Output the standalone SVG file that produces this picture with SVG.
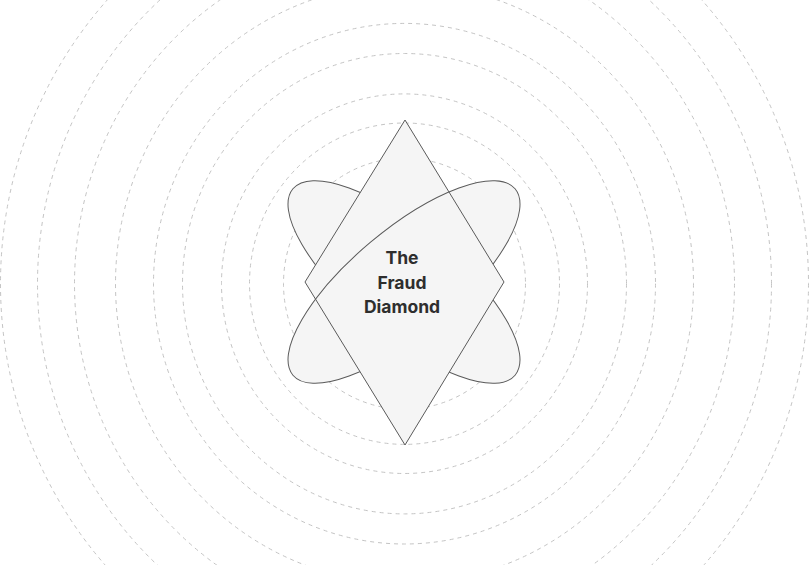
<svg xmlns="http://www.w3.org/2000/svg" width="811" height="565" viewBox="0 0 811 565">
<style>
.ring{fill:none;stroke:#c4c4c4;stroke-width:1;stroke-dasharray:4 4}
.shape{fill:#f5f5f5;stroke:#5a5a5a;stroke-width:1}
.edge{fill:none;stroke:#5a5a5a;stroke-width:1}
.lbl{font-family:Inter,"Liberation Sans",sans-serif;font-weight:700;font-size:17.5px;fill:#2e2e2e;text-anchor:middle}
</style>
<defs>
<clipPath id="cd"><polygon points="405,120 504,282 405,445 305,282"/></clipPath>
<clipPath id="ch"><polygon points="21,603 787,-39 900,-700 -700,-700 -700,603"/></clipPath>
</defs>
<rect width="811" height="565" fill="#fff"/>
<g id="rings">
<ellipse class="ring" cx="404.5" cy="283.7" rx="121" ry="125.5"/>
<ellipse class="ring" cx="404.5" cy="283.7" rx="155" ry="160.7"/>
<ellipse class="ring" cx="404.5" cy="283.7" rx="183" ry="189.8"/>
<ellipse class="ring" cx="404.5" cy="283.7" rx="222" ry="230.2"/>
<ellipse class="ring" cx="404.5" cy="283.7" rx="251" ry="260.3"/>
<ellipse class="ring" cx="404.5" cy="283.7" rx="289" ry="299.7"/>
<ellipse class="ring" cx="404.5" cy="283.7" rx="330" ry="342.2"/>
<ellipse class="ring" cx="404.5" cy="283.7" rx="367" ry="380.6"/>
<ellipse class="ring" cx="404.5" cy="283.7" rx="404" ry="419"/>
</g>
<g id="ellipse-a">
<ellipse class="shape" cx="404" cy="282" rx="145" ry="52" transform="rotate(40 404 282)"/>
</g>
<g id="ellipse-b">
<ellipse class="shape" cx="404" cy="282" rx="145" ry="52" transform="rotate(-40 404 282)"/>
</g>
<g id="diamond">
<polygon class="shape" points="405,120 504,282 405,445 305,282"/>
</g>
<g id="ellipse-b-edge" clip-path="url(#cd)">
<g clip-path="url(#ch)">
<ellipse class="edge" cx="404" cy="282" rx="145" ry="52" transform="rotate(-40 404 282)"/>
</g>
</g>
<g id="label">
<text class="lbl" x="402" y="264">The</text>
<text class="lbl" x="402" y="289">Fraud</text>
<text class="lbl" x="402" y="313">Diamond</text>
</g>
</svg>
